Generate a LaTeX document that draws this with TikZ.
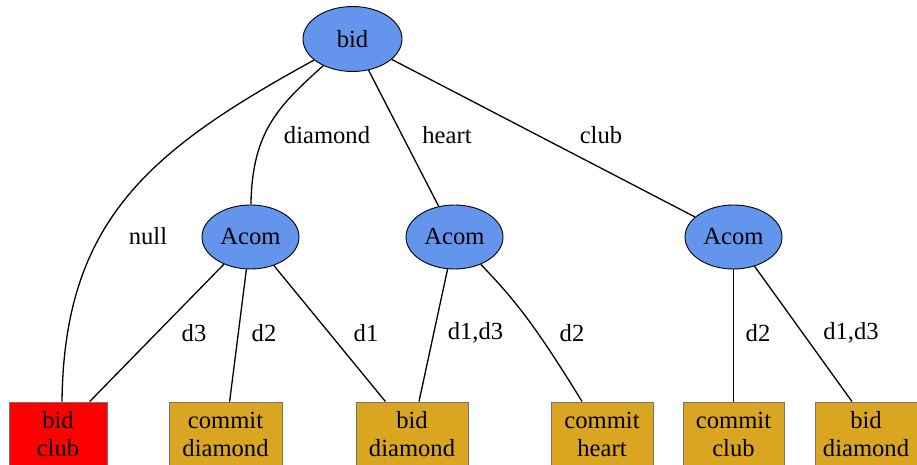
\documentclass[tikz,border=0pt]{standalone}
\usepackage{fontspec}
\setmainfont{Liberation Serif}
\usetikzlibrary{shapes.geometric}
\definecolor{cornflower}{HTML}{6495ED}
\definecolor{goldenrod}{HTML}{DAA520}
\tikzset{
  state/.style={ellipse, draw=black, line width=0.45pt, fill=cornflower, minimum width=48.5pt, minimum height=32pt, inner sep=0pt},
  leaf/.style={rectangle, draw=black!55, line width=0.45pt, fill=goldenrod, minimum height=32pt, inner sep=0pt, align=center},
  connect/.style={line width=0.65pt},
  lbl/.style={inner sep=0pt}
}

\begin{document}
\begin{tikzpicture}[x=0.5pt, y=-0.5pt, every node/.style={font=\fontsize{12.3}{14}\selectfont}]
      \useasboundingbox (0,0) rectangle (917,465);
      % decision nodes
      \node[state, minimum width=49.5pt, minimum height=32.5pt] (bid) at (352.5,39) {bid};
      \node[state] (acomA) at (250.5,237) {Acom};
      \node[state] (acomB) at (454.5,237) {Acom};
      \node[state] (acomC) at (733.5,237) {Acom};
      % outcomes
      \node[leaf, fill=red, minimum width=49pt] (bidClub) at (58,434) {bid\\club};
      \node[leaf, minimum width=56.5pt] (commitDiamond) at (225.5,434) {commit\\diamond};
      \node[leaf, minimum width=56pt] (bidDiamondA) at (412,434) {bid\\diamond};
      \node[leaf, minimum width=51pt] (commitHeart) at (602,434) {commit\\heart};
      \node[leaf, minimum width=50.5pt] (commitClub) at (733.5,434) {commit\\club};
      \node[leaf, minimum width=51pt] (bidDiamondB) at (866,434) {bid\\diamond};

      \draw[connect] (bid) .. controls (150,150) and (64,220) .. ([xshift=2pt]bidClub.north);
      \draw[connect] (bid) .. controls (280,105) and (252,130) .. (acomA);
      \draw[connect] (bid) -- (acomB);
      \draw[connect] (bid) -- (acomC);
      \draw[connect] (acomA) -- (bidClub);
      \draw[connect] (acomA) -- (commitDiamond);
      \draw[connect] (acomA) -- (bidDiamondA);
      \draw[connect] (acomB) -- (bidDiamondA);
      \draw[connect] (acomB) .. controls (515,300) and (535,325) .. (commitHeart);
      \draw[connect] (acomC) -- (commitClub);
      \draw[connect] (acomC) -- ([xshift=-7pt]bidDiamondB.north);

      % edge labels
      \node[lbl] (lNull) at (148,236) {null};
      \node[lbl] (lDiamond) at (327,135) {diamond};
      \node[lbl] (lHeart) at (447,135) {heart};
      \node[lbl] (lClub) at (601,135) {club};
      \node[lbl] (lAd3) at (194,333) {d3};
      \node[lbl] (lAd2) at (264,333) {d2};
      \node[lbl] (lAd1) at (366,333) {d1};
      \node[lbl] (lBd13) at (475.5,333) {d1,d3};
      \node[lbl] (lBd2) at (572,333) {d2};
      \node[lbl] (lCd2) at (758,333) {d2};
      \node[lbl] (lCd13) at (851,333) {d1,d3};
\end{tikzpicture}
\end{document}
